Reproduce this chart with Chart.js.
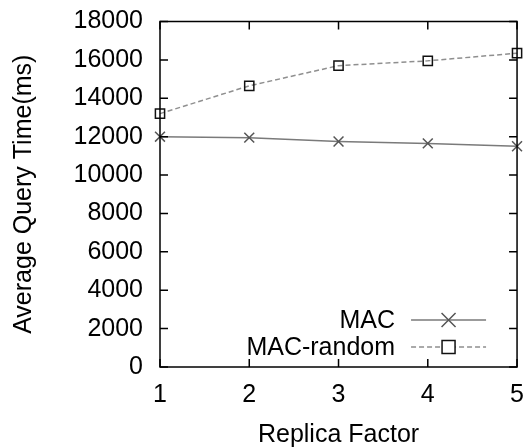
<!DOCTYPE html>
<html>
<head>
<meta charset="utf-8">
<script src="https://cdn.jsdelivr.net/npm/chart.js"></script>
<style>
  body { margin: 0; background: #fff; }
  #wrap { width: 531px; height: 448px; }
</style>
</head>
<body>
<div id="wrap"><canvas id="c"></canvas></div>
<script>
const replicaFactors = ['1', '2', '3', '4', '5'];
const macValues = [12000, 11950, 11750, 11650, 11500];
const macRandomValues = [13200, 14650, 15700, 15950, 16350];
const yTicks = [0, 2000, 4000, 6000, 8000, 10000, 12000, 14000, 16000, 18000];

const FONT = '"Liberation Sans", Arial, sans-serif';
const FS = 25;

// gnuplot style frame: box around plot area, ticks pointing inward
const framePlugin = {
  id: 'frame',
  afterDatasetsDraw(chart) {
    const { ctx, chartArea: a, scales } = chart;
    const tl = 8;
    ctx.save();
    ctx.strokeStyle = '#000';
    ctx.lineWidth = 1.5;
    ctx.strokeRect(a.left, a.top, a.right - a.left, a.bottom - a.top);
    ctx.beginPath();
    yTicks.forEach(v => {
      const y = scales.y.getPixelForValue(v);
      ctx.moveTo(a.left, y); ctx.lineTo(a.left + tl, y);
      ctx.moveTo(a.right, y); ctx.lineTo(a.right - tl, y);
    });
    replicaFactors.forEach((_, i) => {
      const x = scales.x.getPixelForValue(i);
      ctx.moveTo(x, a.bottom); ctx.lineTo(x, a.bottom - tl);
      ctx.moveTo(x, a.top); ctx.lineTo(x, a.top + tl);
    });
    ctx.stroke();
    ctx.restore();
  }
};

// legend inside bottom right: text on the left, line sample on the right
const keyPlugin = {
  id: 'key',
  afterDraw(chart) {
    const { ctx, chartArea: a } = chart;
    const textRight = a.right - 122;
    const x0 = a.right - 106, x1 = a.right - 31;
    const rows = [a.bottom - 47, a.bottom - 20];
    ctx.save();
    ctx.font = FS + 'px ' + FONT;
    ctx.fillStyle = '#000';
    ctx.textAlign = 'right';
    ctx.textBaseline = 'middle';
    chart.data.datasets.forEach((ds, i) => {
      const y = rows[i];
      ctx.fillText(ds.label, textRight, y + 1);
      ctx.beginPath();
      ctx.strokeStyle = ds.borderColor;
      ctx.lineWidth = ds.borderWidth;
      ctx.setLineDash(ds.borderDash || []);
      ctx.moveTo(x0, y); ctx.lineTo(x1, y);
      ctx.stroke();
      ctx.setLineDash([]);
      const mx = (x0 + x1) / 2;
      const r = ds.pointRadius;
      ctx.strokeStyle = ds.pointBorderColor;
      ctx.lineWidth = ds.pointBorderWidth;
      ctx.beginPath();
      if (ds.pointStyle === 'rect') {
        ctx.fillStyle = '#fff';
        ctx.fillRect(mx - r, y - r, 2 * r, 2 * r);
        ctx.strokeRect(mx - r, y - r, 2 * r, 2 * r);
      } else {
        ctx.moveTo(mx - r, y - r); ctx.lineTo(mx + r, y + r);
        ctx.moveTo(mx - r, y + r); ctx.lineTo(mx + r, y - r);
        ctx.stroke();
      }
    });
    ctx.restore();
  }
};

new Chart(document.getElementById('c'), {
  type: 'line',
  data: {
    labels: replicaFactors,
    datasets: [
      {
        label: 'MAC',
        data: macValues,
        borderColor: '#7a7a7a',
        borderWidth: 1.5,
        pointStyle: 'crossRot',
        pointRadius: 7,
        pointBorderColor: '#555',
        pointBorderWidth: 1.5,
        pointBackgroundColor: '#555',
        clip: false
      },
      {
        label: 'MAC-random',
        data: macRandomValues,
        borderColor: '#8f8f8f',
        borderWidth: 1.5,
        borderDash: [5, 3],
        pointStyle: 'rect',
        pointRadius: 6.5,
        pointBorderColor: '#111',
        pointBorderWidth: 1.5,
        pointBackgroundColor: 'rgba(255,255,255,0)',
        clip: false
      }
    ]
  },
  options: {
    responsive: true,
    maintainAspectRatio: false,
    animation: false,
    events: [],
    layout: { autoPadding: false, padding: { top: 0, right: 0, left: 9, bottom: 0 } },
    plugins: { legend: { display: false }, tooltip: { enabled: false } },
    scales: {
      x: {
        type: 'category',
        offset: false,
        grid: { display: false, drawTicks: false },
        border: { display: false },
        ticks: { color: '#000', font: { family: FONT, size: FS, lineHeight: 1.68 }, padding: 7, maxRotation: 0 },
        title: { display: true, text: 'Replica Factor', color: '#000', font: { family: FONT, size: FS }, padding: { top: 8, bottom: -2 } },
        afterFit(s) { s.height = 81; }
      },
      y: {
        min: 0,
        max: 18000,
        grid: { display: false, drawTicks: false },
        border: { display: false },
        ticks: {
          color: '#000', font: { family: FONT, size: FS, lineHeight: 0.36 }, stepSize: 2000, padding: 17,
          callback: v => String(v)
        },
        title: { display: true, text: 'Average Query Time(ms)', color: '#000', font: { family: FONT, size: FS }, padding: { top: 0, bottom: 0 } },
        afterFit(s) { s.width = 151; }
      }
    }
  },
  plugins: [framePlugin, keyPlugin]
});
</script>
</body>
</html>
